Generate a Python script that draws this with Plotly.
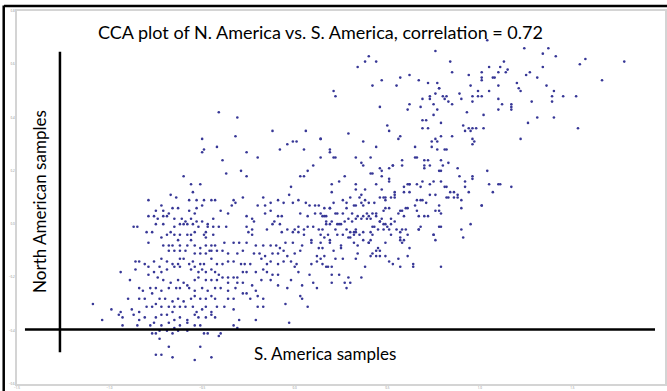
import plotly.graph_objects as go

# ---- data ----
# left cluster (South-American score, North-American score)
x_left = [
    -0.41,-0.31,-0.12,0.06,-0.32,-0.50,0.14,-0.42,-0.49,-0.50,0.19,-0.26,-0.04,-0.01,0.01,-0.08,0.05,-0.20,-0.39,0.10,
    0.07,0.05,0.03,-0.29,-0.26,-0.37,-0.60,-0.56,-0.51,-0.02,-0.55,-0.03,-0.67,-0.64,-0.79,-0.57,-0.53,-0.49,-0.45,-0.43,
    -0.33,-0.28,-0.17,-0.09,-0.06,-0.01,0.02,0.06,0.08,0.11,0.13,0.16,0.19,-0.32,-0.34,-0.20,-0.16,-0.13,-0.72,-0.66,
    -0.75,-0.71,-0.68,-0.63,-0.57,-0.54,-0.53,-0.50,-0.40,-0.36,-0.16,-0.13,-0.09,-0.07,0.03,0.07,0.11,0.14,0.17,-0.26,
    -0.23,-0.22,-0.79,-0.76,-0.74,-0.71,-0.69,-0.65,-0.61,-0.59,-0.56,-0.53,-0.50,-0.44,-0.87,-0.85,-0.80,-0.77,-0.75,-0.71,
    -0.65,-0.62,-0.60,-0.58,-0.55,-0.52,-0.47,-0.44,-0.41,-0.37,-0.26,-0.23,-0.25,-0.23,-0.15,-0.12,-0.11,-0.08,-0.04,0.00,
    0.02,0.05,0.07,0.10,0.13,0.14,0.18,-0.07,-0.01,0.02,0.05,0.09,-0.72,-0.69,-0.67,-0.65,-0.62,-0.58,-0.56,-0.54,
    -0.49,-0.48,-0.48,-0.47,-0.44,-0.79,-0.71,-0.68,-0.66,-0.63,-0.62,-0.58,-0.56,-0.54,-0.51,-0.48,-0.45,-0.43,-0.38,-0.33,
    -0.30,-0.26,-0.21,-0.17,-0.13,-0.10,-0.08,-0.06,-0.05,-0.01,0.04,0.09,0.13,0.19,-0.68,-0.65,-0.62,-0.59,-0.54,-0.51,
    -0.48,-0.46,-0.45,-0.42,-0.39,-0.36,-0.31,-0.28,-0.22,-0.19,-0.16,-0.12,-0.09,-0.04,0.00,0.03,0.12,0.14,-0.86,-0.84,
    -0.81,-0.76,-0.72,-0.69,-0.66,-0.63,-0.62,-0.60,-0.57,-0.55,-0.51,-0.49,-0.45,-0.42,-0.39,-0.36,-0.33,-0.29,-0.27,-0.24,
    -0.18,-0.15,-0.13,-0.09,-0.06,-0.02,0.01,0.09,0.12,-0.94,-0.86,-0.79,-0.76,-0.73,-0.72,-0.69,-0.65,-0.62,-0.56,-0.54,
    -0.52,-0.50,-0.48,-0.45,-0.43,-0.41,-0.39,-0.36,-0.33,-0.31,-0.28,-0.26,-0.21,-0.17,-0.15,-0.12,-0.09,0.00,0.02,0.08,
    -0.89,-0.79,-0.74,-0.71,-0.67,-0.63,-0.60,-0.58,-0.54,-0.52,-0.48,-0.45,-0.42,-0.36,-0.31,-0.28,-0.23,-0.18,-0.13,-0.09,
    -0.04,-0.02,0.04,0.10,-0.84,-0.82,-0.78,-0.75,-0.72,-0.68,-0.64,-0.62,-0.57,-0.54,-0.50,-0.47,-0.43,-0.40,-0.36,-0.32,
    -0.28,-0.26,-0.21,-0.20,-0.17,0.03,0.12,-0.90,-0.84,-0.81,-0.77,-0.73,-0.70,-0.66,-0.63,-0.60,-0.56,-0.54,-0.51,-0.48,
    -0.45,-0.43,-0.36,-0.33,-0.24,0.04,-0.05,0.07,-0.99,-0.94,-0.88,-0.84,-0.80,-0.77,-0.75,-0.72,-0.68,-0.65,-0.62,-0.59,
    -0.55,-0.53,-0.50,-0.48,-0.45,-0.42,-0.38,-0.33,-0.20,-0.17,-1.09,-1.04,-0.95,-0.93,-0.87,-0.84,-0.81,-0.75,-0.72,-0.69,
    -0.66,-0.65,-0.62,-0.58,-0.54,-0.52,-0.48,-0.45,-0.43,-0.93,-0.85,-0.78,-0.76,-0.72,-0.68,-0.65,-0.62,-0.58,-0.54,-0.51,
    -0.33,-0.31,-0.30,-0.21,-0.03,-0.77,-0.75,-0.73,-0.69,-0.66,-0.63,-0.58,-0.49,-0.47,-0.41,-0.40,-0.73,-0.68,-0.75,-0.72,
    -0.66,-0.51,-0.45,-0.54,
]
y_left = [
    0.42,0.40,0.35,0.35,0.33,0.32,0.32,0.29,0.28,0.27,0.27,0.27,0.30,0.31,0.31,0.28,0.28,0.25,0.24,0.22,
    0.20,0.18,0.18,0.20,0.18,0.19,0.18,0.15,0.15,0.14,0.12,0.11,0.11,0.10,0.09,0.09,0.09,0.09,0.09,0.09,
    0.09,0.10,0.10,0.09,0.08,0.08,0.09,0.08,0.07,0.07,0.07,0.06,0.06,0.08,0.07,0.07,0.07,0.08,0.07,0.06,
    0.05,0.05,0.04,0.06,0.05,0.04,0.06,0.07,0.05,0.04,0.04,0.05,0.03,0.03,0.04,0.03,0.04,0.04,0.03,0.03,
    0.02,0.01,0.03,0.03,0.02,0.03,0.03,0.02,0.02,0.01,0.02,0.01,0.01,0.02,-0.01,-0.01,-0.03,-0.03,0.00,0.00,
    -0.01,0.00,0.00,0.00,0.00,-0.01,0.00,-0.01,-0.01,-0.01,-0.01,-0.02,-0.03,-0.04,-0.02,0.00,0.01,0.00,-0.02,-0.02,
    -0.01,-0.02,-0.01,-0.01,-0.02,-0.04,-0.04,-0.03,-0.03,-0.03,-0.04,-0.06,-0.05,-0.04,-0.03,-0.04,-0.04,-0.04,-0.04,-0.03,
    -0.04,-0.03,-0.05,-0.01,-0.04,-0.07,-0.08,-0.08,-0.08,-0.06,-0.08,-0.08,-0.06,-0.08,-0.09,-0.08,-0.08,-0.08,-0.07,-0.07,
    -0.07,-0.07,-0.08,-0.08,-0.08,-0.08,-0.09,-0.10,-0.07,-0.07,-0.08,-0.07,-0.09,-0.06,-0.10,-0.10,-0.10,-0.10,-0.11,-0.11,
    -0.11,-0.10,-0.10,-0.10,-0.10,-0.11,-0.11,-0.10,-0.11,-0.11,-0.12,-0.11,-0.11,-0.12,-0.11,-0.10,-0.12,-0.13,-0.14,-0.14,
    -0.15,-0.14,-0.13,-0.14,-0.15,-0.15,-0.13,-0.13,-0.15,-0.14,-0.15,-0.15,-0.13,-0.15,-0.15,-0.14,-0.14,-0.15,-0.15,-0.15,
    -0.13,-0.15,-0.14,-0.15,-0.14,-0.14,-0.15,-0.15,-0.14,-0.18,-0.17,-0.16,-0.18,-0.16,-0.18,-0.17,-0.16,-0.16,-0.17,-0.16,
    -0.18,-0.17,-0.18,-0.17,-0.18,-0.19,-0.20,-0.20,-0.20,-0.20,-0.18,-0.18,-0.18,-0.17,-0.18,-0.19,-0.19,-0.16,-0.18,-0.19,
    -0.21,-0.19,-0.20,-0.21,-0.22,-0.21,-0.22,-0.23,-0.21,-0.20,-0.21,-0.21,-0.21,-0.22,-0.22,-0.22,-0.23,-0.21,-0.21,-0.23,
    -0.24,-0.21,-0.23,-0.22,-0.24,-0.25,-0.24,-0.24,-0.25,-0.24,-0.24,-0.24,-0.24,-0.25,-0.24,-0.25,-0.24,-0.24,-0.25,-0.24,
    -0.26,-0.26,-0.25,-0.27,-0.28,-0.27,-0.24,-0.28,-0.28,-0.28,-0.26,-0.28,-0.28,-0.29,-0.28,-0.29,-0.28,-0.27,-0.28,-0.28,
    -0.27,-0.28,-0.28,-0.28,-0.28,-0.28,-0.30,-0.31,-0.32,-0.33,-0.32,-0.33,-0.31,-0.31,-0.30,-0.31,-0.31,-0.31,-0.31,-0.31,
    -0.31,-0.33,-0.32,-0.31,-0.33,-0.31,-0.31,-0.32,-0.31,-0.31,-0.30,-0.36,-0.34,-0.35,-0.34,-0.36,-0.35,-0.35,-0.34,-0.34,
    -0.33,-0.36,-0.35,-0.36,-0.34,-0.35,-0.35,-0.34,-0.35,-0.38,-0.38,-0.38,-0.37,-0.38,-0.37,-0.39,-0.38,-0.37,-0.38,-0.38,
    -0.38,-0.39,-0.36,-0.36,-0.37,-0.41,-0.41,-0.40,-0.40,-0.41,-0.40,-0.40,-0.41,-0.41,-0.42,-0.41,-0.43,-0.46,-0.49,-0.49,
    -0.50,-0.46,-0.50,-0.51,
]

# right / upper part of the cloud
x_right = [
    1.04,0.76,1.24,1.37,1.34,1.41,0.40,0.38,0.44,0.34,0.84,1.13,1.57,1.78,1.54,1.34,1.05,1.11,1.10,1.14,
    1.15,1.27,1.25,1.31,1.01,0.94,0.85,0.62,0.57,0.47,0.42,0.55,0.67,0.72,0.77,0.78,0.78,0.76,0.73,0.73,
    0.80,0.82,0.81,0.83,0.85,0.89,0.90,0.95,0.99,0.96,0.99,1.01,0.96,1.01,1.01,1.07,1.08,1.05,1.10,1.10,
    1.12,1.10,1.17,1.17,1.17,1.20,1.21,1.22,1.28,1.36,1.40,1.39,1.45,1.39,1.52,1.66,1.31,1.40,1.53,1.26,
    1.22,0.21,0.22,0.46,0.61,0.62,0.69,0.68,0.75,0.77,0.79,0.75,0.69,0.71,0.69,0.72,0.93,1.02,0.91,0.94,
    0.92,0.95,0.96,0.98,1.02,0.50,0.51,0.29,0.14,0.56,0.57,0.37,0.44,0.65,0.74,0.76,0.79,0.77,0.85,0.82,
    0.81,0.77,0.96,0.97,0.96,0.19,0.14,0.21,0.22,0.33,0.41,0.66,0.65,0.72,0.74,0.70,0.70,0.73,0.70,0.79,
    0.83,0.80,0.88,0.58,0.58,0.53,0.53,0.51,0.46,0.36,0.37,0.41,0.42,0.47,0.47,0.27,0.24,0.20,0.33,0.33,
    0.38,0.44,0.47,0.51,0.51,0.59,0.61,0.62,0.66,0.68,0.69,0.73,0.75,0.78,0.79,0.76,0.79,0.81,0.82,0.82,
    0.84,0.86,0.88,0.86,0.88,0.89,0.90,0.90,0.92,0.92,0.94,0.96,0.96,1.04,1.05,1.07,1.10,1.11,1.17,1.01,
    1.01,0.95,0.90,0.91,0.20,0.26,0.28,0.30,0.35,0.36,0.33,0.32,0.17,0.15,0.16,0.19,0.21,0.22,0.23,0.26,
    0.31,0.28,0.36,0.37,0.38,0.40,0.43,0.44,0.46,0.48,0.49,0.49,0.52,0.54,0.54,0.54,0.59,0.62,0.62,0.65,
    0.66,0.68,0.69,0.71,0.73,0.76,0.78,0.78,0.79,0.79,0.75,0.76,0.83,0.70,0.72,0.67,0.66,0.61,0.60,0.59,
    0.58,0.57,0.56,0.51,0.49,0.48,0.44,0.42,0.40,0.39,0.41,0.39,0.37,0.36,0.34,0.33,0.33,0.31,0.29,0.27,
    0.25,0.24,0.23,0.22,0.20,0.19,0.17,0.15,0.28,0.29,0.30,0.30,0.26,0.23,0.32,0.32,0.33,0.35,0.37,0.41,
    0.42,0.42,0.43,0.45,0.46,0.46,0.47,0.48,0.49,0.50,0.51,0.52,0.52,0.54,0.55,0.58,0.60,0.57,0.57,0.58,
    0.59,0.57,0.61,0.62,0.52,0.48,0.49,0.45,0.44,0.46,0.41,0.40,0.40,0.37,0.34,0.32,0.25,0.25,0.21,0.19,
    0.16,0.14,0.15,0.16,0.17,0.15,0.22,0.26,0.33,0.34,0.41,0.42,0.44,0.46,0.49,0.53,0.57,0.56,0.51,0.61,
    0.64,0.64,0.79,0.38,0.18,0.20,0.20,0.24,0.29,0.36,0.67,0.67,0.68,0.75,0.78,0.20,0.27,0.30,0.28,
]
y_right = [
    0.69,0.65,0.66,0.66,0.64,0.63,0.63,0.61,0.61,0.59,0.61,0.61,0.62,0.61,0.60,0.59,0.59,0.59,0.57,0.57,
    0.58,0.57,0.56,0.55,0.57,0.56,0.57,0.56,0.55,0.54,0.52,0.52,0.54,0.53,0.53,0.51,0.51,0.49,0.48,0.47,
    0.48,0.48,0.47,0.46,0.45,0.49,0.47,0.52,0.50,0.48,0.48,0.48,0.46,0.55,0.54,0.55,0.55,0.50,0.52,0.47,
    0.45,0.43,0.45,0.44,0.43,0.53,0.51,0.50,0.46,0.52,0.50,0.48,0.48,0.46,0.48,0.54,0.40,0.40,0.36,0.38,
    0.32,0.50,0.48,0.44,0.43,0.45,0.47,0.44,0.45,0.43,0.38,0.41,0.39,0.39,0.36,0.36,0.42,0.41,0.37,0.36,
    0.35,0.35,0.36,0.36,0.36,0.37,0.35,0.34,0.32,0.32,0.33,0.31,0.29,0.29,0.31,0.32,0.33,0.31,0.33,0.28,
    0.28,0.28,0.32,0.31,0.30,0.28,0.25,0.25,0.25,0.25,0.25,0.25,0.25,0.24,0.29,0.24,0.22,0.22,0.21,0.24,
    0.23,0.22,0.21,0.24,0.22,0.22,0.22,0.21,0.21,0.23,0.22,0.19,0.19,0.20,0.18,0.18,0.16,0.15,0.15,0.13,
    0.13,0.15,0.13,0.17,0.16,0.14,0.15,0.15,0.15,0.14,0.16,0.15,0.16,0.20,0.20,0.11,0.16,0.14,0.14,0.10,
    0.12,0.12,0.11,0.10,0.10,0.18,0.09,0.06,0.16,0.14,0.12,0.18,0.17,0.20,0.15,0.12,0.15,0.15,0.14,0.07,
    0.07,0.00,-0.02,-0.05,0.12,0.09,0.08,0.10,0.10,0.11,0.07,0.07,0.01,0.03,0.03,0.06,0.08,0.04,0.04,0.04,
    0.04,0.06,0.08,0.07,0.09,0.08,0.08,0.04,0.10,0.10,0.10,0.09,0.10,0.10,0.12,0.11,0.12,0.15,0.12,0.07,
    0.09,0.09,0.09,0.08,0.11,0.05,0.07,0.05,0.04,-0.01,-0.04,-0.06,0.10,0.03,0.03,0.03,0.05,0.06,0.06,0.03,
    0.05,0.05,0.04,0.06,0.06,0.05,0.03,0.04,0.03,0.04,0.02,0.02,0.03,0.02,0.03,0.02,-0.02,0.01,0.02,0.01,
    0.00,0.00,0.00,-0.02,0.01,0.00,0.00,-0.02,-0.02,-0.05,-0.05,-0.03,-0.04,-0.04,-0.03,-0.04,-0.03,-0.04,-0.03,-0.03,
    -0.04,-0.01,-0.01,-0.02,0.01,0.01,0.02,0.00,0.00,-0.01,-0.02,0.00,0.02,0.01,-0.02,-0.02,-0.02,-0.03,-0.05,-0.07,
    -0.06,-0.06,-0.04,-0.09,-0.04,-0.02,-0.07,-0.09,-0.10,-0.10,-0.06,-0.07,-0.07,-0.06,-0.08,-0.07,-0.08,-0.09,-0.10,-0.07,
    -0.05,-0.07,-0.09,-0.12,-0.16,-0.15,-0.13,-0.13,-0.13,-0.11,-0.12,-0.11,-0.12,-0.12,-0.12,-0.15,-0.16,-0.13,-0.14,-0.12,
    -0.16,-0.15,-0.16,-0.16,-0.16,-0.16,-0.19,-0.19,-0.20,-0.20,-0.02,-0.02,-0.01,-0.04,-0.01,-0.22,-0.22,-0.22,-0.24,
]

x_ticks = [-1.5, -1.0, -0.5, 0.0, 0.5, 1.0, 1.5, 2.0]
y_ticks = [-0.6, -0.4, -0.2, 0.0, 0.2, 0.4, 0.6, 0.8]

title_text = "CCA plot of N. America vs. S. America, correlation = 0.72"
x_label = "S. America samples"
y_label = "North American samples"

# hand-drawn style reference axes (data coords)
h_axis_y = -0.395
h_axis_x = [-1.457, 1.946]
v_axis_x = -1.268
v_axis_y = [-0.481, 0.647]

assert len(x_left) == len(y_left), (len(x_left), len(y_left))
assert len(x_right) == len(y_right), (len(x_right), len(y_right))

xs = x_left + x_right
ys = y_left + y_right

fig = go.Figure()
fig.add_trace(go.Scatter(
    x=xs, y=ys, mode="markers",
    marker=dict(size=2.6, color="rgb(55,55,150)", line=dict(width=0)),
    hoverinfo="skip", showlegend=False,
))

fig.add_shape(type="line", xref="x", yref="y",
              x0=h_axis_x[0], x1=h_axis_x[1], y0=h_axis_y, y1=h_axis_y,
              line=dict(color="black", width=2.5))
fig.add_shape(type="line", xref="x", yref="y",
              x0=v_axis_x, x1=v_axis_x, y0=v_axis_y[0], y1=v_axis_y[1],
              line=dict(color="black", width=2.5))

# outer dark frame (top + left) of the screenshot
fig.add_shape(type="line", xref="paper", yref="paper",
              x0=-0.02, x1=1.01, y0=1.0133, y1=1.0133,
              line=dict(color="black", width=2.5))
fig.add_shape(type="line", xref="paper", yref="paper",
              x0=-0.0205, x1=-0.0205, y0=-0.03, y1=1.0145,
              line=dict(color="black", width=2.5))

font_family = "Lato, Open Sans, sans-serif"
fig.add_annotation(text=title_text, xref="paper", yref="paper",
                   x=0.468, y=0.945, xanchor="center", yanchor="middle",
                   showarrow=False, font=dict(family=font_family, size=18, color="black"))
fig.add_annotation(text=x_label, xref="paper", yref="paper",
                   x=0.476, y=0.082, xanchor="center", yanchor="middle",
                   showarrow=False, font=dict(family=font_family, size=17, color="black"))
fig.add_annotation(text=y_label, xref="paper", yref="paper",
                   x=0.035, y=0.49, xanchor="center", yanchor="middle", textangle=-90,
                   showarrow=False, font=dict(family=font_family, size=17, color="black"))

axis_common = dict(
    showgrid=False, zeroline=False, showline=True, linecolor="#d4d4d4", linewidth=1.5,
    mirror=True, ticks="", ticklabelstandoff=0,
    tickfont=dict(size=3, color="#888888"), tickformat=".1f",
)
fig.update_xaxes(range=[-1.5, 2.0], tickvals=x_ticks, **axis_common)
fig.update_yaxes(range=[-0.6, 0.8], tickvals=y_ticks, **axis_common)

fig.update_layout(
    width=667, height=391,
    margin=dict(l=17, r=2, t=11, b=7, autoexpand=False),
    paper_bgcolor="white", plot_bgcolor="white",
)

fig.write_html("out.html",
               config={"displayModeBar": False},
               post_script="document.body.style.margin='0';document.body.style.padding='0';")
